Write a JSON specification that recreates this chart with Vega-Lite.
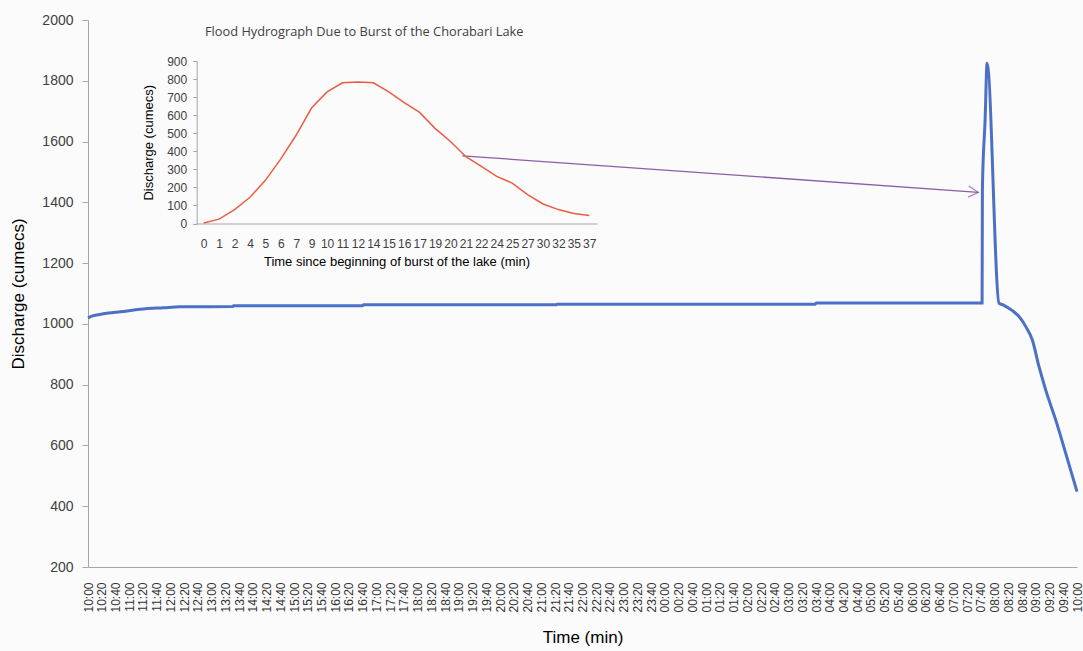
{
  "$schema": "https://vega.github.io/schema/vega-lite/v6.json",
  "width": 989,
  "height": 547,
  "autosize": {"type": "none"},
  "padding": {"left": 88, "top": 20, "right": 6, "bottom": 84},
  "background": "#FBFBFB",
  "config": {
    "view": {"stroke": null},
    "axis": {"grid": false, "domainColor": "#A6A6A6", "tickColor": "#A6A6A6", "labelFont": "Liberation Sans", "titleFont": "Liberation Sans", "titleFontWeight": "normal", "titleColor": "#000000", "labelColor": "#404040"},
    "axisX": {"labelOverlap": false}
  },
  "title": {
    "text": "Flood Hydrograph Due to Burst of the  Chorabari  Lake",
    "anchor": "start",
    "frame": "group",
    "offset": -26,
    "dx": 117,
    "font": "Open Sans",
    "fontSize": 12.8,
    "fontWeight": "normal",
    "color": "#404040"
  },
  "datasets": {
    "main": [
      {"min": 0, "q": 1020},
      {"min": 8, "q": 1027},
      {"min": 17, "q": 1031},
      {"min": 30, "q": 1036},
      {"min": 47, "q": 1040},
      {"min": 76, "q": 1048},
      {"min": 110, "q": 1053},
      {"min": 134, "q": 1056},
      {"min": 211, "q": 1057},
      {"min": 212, "q": 1060},
      {"min": 400, "q": 1060},
      {"min": 401, "q": 1063},
      {"min": 682, "q": 1063},
      {"min": 683, "q": 1065},
      {"min": 1059, "q": 1065},
      {"min": 1060, "q": 1069},
      {"min": 1301.8, "q": 1069},
      {"min": 1302.3, "q": 1450},
      {"min": 1306.2, "q": 1671},
      {"min": 1309.1, "q": 1858},
      {"min": 1326.5, "q": 1068},
      {"min": 1333, "q": 1062},
      {"min": 1341, "q": 1051},
      {"min": 1348, "q": 1040},
      {"min": 1355.6, "q": 1024},
      {"min": 1365.4, "q": 991},
      {"min": 1375, "q": 947},
      {"min": 1384.7, "q": 859},
      {"min": 1394.5, "q": 782},
      {"min": 1409, "q": 684},
      {"min": 1423.6, "q": 574},
      {"min": 1440, "q": 448}
    ],
    "arrow": [
      {"min": 545, "q": 1553, "min2": 1296.4, "q2": 1433}
    ],
    "head": [
      {"min": 1296.4, "q": 1433}
    ],
    "inset": [
      {"t": 0, "q": 3},
      {"t": 1, "q": 24},
      {"t": 2, "q": 77},
      {"t": 4, "q": 145},
      {"t": 5, "q": 239},
      {"t": 6, "q": 358},
      {"t": 7, "q": 490},
      {"t": 9, "q": 641},
      {"t": 10, "q": 729},
      {"t": 11, "q": 779},
      {"t": 12, "q": 784},
      {"t": 14, "q": 779},
      {"t": 15, "q": 729},
      {"t": 16, "q": 670},
      {"t": 17, "q": 615},
      {"t": 19, "q": 527},
      {"t": 20, "q": 454},
      {"t": 21, "q": 370},
      {"t": 22, "q": 316},
      {"t": 24, "q": 261},
      {"t": 25, "q": 224},
      {"t": 27, "q": 160},
      {"t": 30, "q": 108},
      {"t": 32, "q": 77},
      {"t": 35, "q": 55},
      {"t": 37, "q": 44}
    ]
  },
  "layer": [
    {
      "encoding": {
        "x": {
          "field": "min", "type": "quantitative",
          "scale": {"domain": [0, 1440], "nice": false, "zero": false},
          "axis": {
            "title": "Time (min)",
            "tickCount": 72,
            "labelExpr": "timeFormat(datetime(2013, 5, 16, 10, datum.value), '%H:%M')",
            "labelAngle": -90, "labelOverlap": false, "labelFlush": false, "ticks": false, "labelPadding": 15, "labelFontSize": 12, "labelColor": "#333333", "titleFontSize": 17, "titlePadding": 17
          }
        },
        "y": {
          "field": "q", "type": "quantitative",
          "scale": {"domain": [200, 2000], "nice": false},
          "axis": {"title": "Discharge (cumecs)", "format": "d", "values": [200, 400, 600, 800, 1000, 1200, 1400, 1600, 1800, 2000], "tickSize": 6, "labelPadding": 9, "labelFontSize": 14, "titleFontSize": 17, "titlePadding": 14}
        }
      },
      "layer": [
        {
          "data": {"name": "main"},
          "mark": {"type": "line", "color": "#4B70C5", "strokeWidth": 3, "interpolate": "monotone"}
        },
        {
          "data": {"name": "arrow"},
          "mark": {"type": "rule", "color": "#8B5EA8", "strokeWidth": 1.3},
          "encoding": {
            "x2": {"field": "min2"},
            "y2": {"field": "q2"}
          }
        },
        {
          "data": {"name": "head"},
          "mark": {"type": "point", "shape": "M -1 -0.55 L 0 0 L -1 0.55", "filled": false, "color": "#8B5EA8", "strokeWidth": 1.3, "size": 400, "angle": 4}
        }
      ]
    },
    {
      "data": {"name": "inset"},
      "mark": {"type": "line", "color": "#EE5B43", "strokeWidth": 1.5},
      "encoding": {
        "x": {
          "field": "t", "type": "ordinal",
          "scale": {"range": [108, 509]},
          "axis": {"orient": "bottom", "offset": -343.5, "title": "Time since beginning of burst of the lake (min)", "labelAngle": 0, "labelOverlap": false, "ticks": false, "labelPadding": 15, "labelFontSize": 12, "titleFontSize": 13, "titlePadding": 6}
        },
        "y": {
          "field": "q", "type": "quantitative",
          "scale": {"domain": [0, 900], "range": [203.5, 41], "nice": false},
          "axis": {"orient": "left", "offset": -108.7, "title": "Discharge (cumecs)", "values": [0, 100, 200, 300, 400, 500, 600, 700, 800, 900], "tickSize": 4, "labelPadding": 6, "labelFontSize": 12, "titleFontSize": 13, "titlePadding": 11}
        }
      }
    }
  ],
  "resolve": {"scale": {"x": "independent", "y": "independent"}, "axis": {"x": "independent", "y": "independent"}}
}
